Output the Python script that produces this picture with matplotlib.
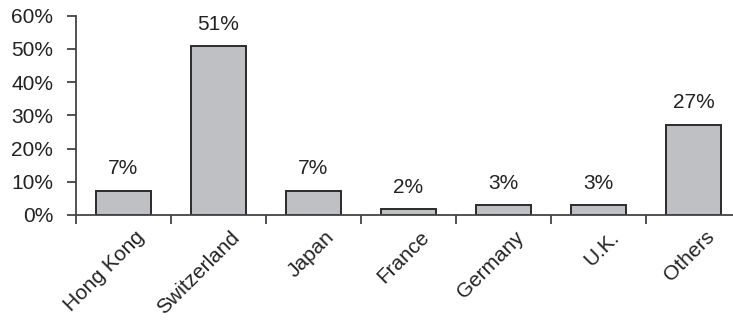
import matplotlib.pyplot as plt
from matplotlib.ticker import FixedLocator, PercentFormatter
import matplotlib.transforms as mtransforms

# Data
countries = ["Hong Kong", "Switzerland", "Japan", "France", "Germany", "U.K.", "Others"]
shares = [7.3, 50.8, 7.3, 1.8, 3.0, 3.0, 27.2]
share_labels = ["7%", "51%", "7%", "2%", "3%", "3%", "27%"]

plt.rcParams['font.family'] = ['Liberation Sans', 'DejaVu Sans']

fig = plt.figure(figsize=(7.33, 3.22), dpi=100)
ax = fig.add_axes([76 / 733, 1 - 215 / 322, 665 / 733, 199.5 / 322])

x = range(len(countries))
bars = ax.bar(x, shares, width=0.57, color="#bfc0c4", edgecolor="#2b2b2b", linewidth=1.4)

for b, lab in zip(bars, share_labels):
    ax.annotate(lab, (b.get_x() + b.get_width() / 2, b.get_height()),
                xytext=(0, 9), textcoords="offset points",
                ha="center", va="bottom", fontsize=15, color="#222222")

ax.set_xlim(-0.5, 6.5)
ax.set_ylim(0, 60)
ax.set_yticks(range(0, 61, 10))
ax.yaxis.set_major_formatter(PercentFormatter(decimals=0))

# category labels at centers, ticks at boundaries
ax.set_xticks(list(x))
ax.set_xticklabels(countries, rotation=45, ha="right", rotation_mode="anchor")
ax.xaxis.set_minor_locator(FixedLocator([i - 0.5 for i in range(len(countries) + 1)]))
ax.tick_params(axis="x", which="major", length=0, pad=9, labelsize=15, labelcolor="#222222")
ax.tick_params(axis="x", which="minor", length=6.5, width=1.3, color="#444444", direction="out")
ax.tick_params(axis="y", length=6.5, width=1.3, color="#444444", labelsize=15, labelcolor="#222222", pad=10)

offset = mtransforms.ScaledTranslation(11 / 100, 0, fig.dpi_scale_trans)
for lbl in ax.get_xticklabels():
    lbl.set_transform(lbl.get_transform() + offset)

for side in ["top", "right"]:
    ax.spines[side].set_visible(False)
for side in ["left", "bottom"]:
    ax.spines[side].set_linewidth(1.3)
    ax.spines[side].set_color("#444444")

fig.savefig("out.png", dpi=100)
